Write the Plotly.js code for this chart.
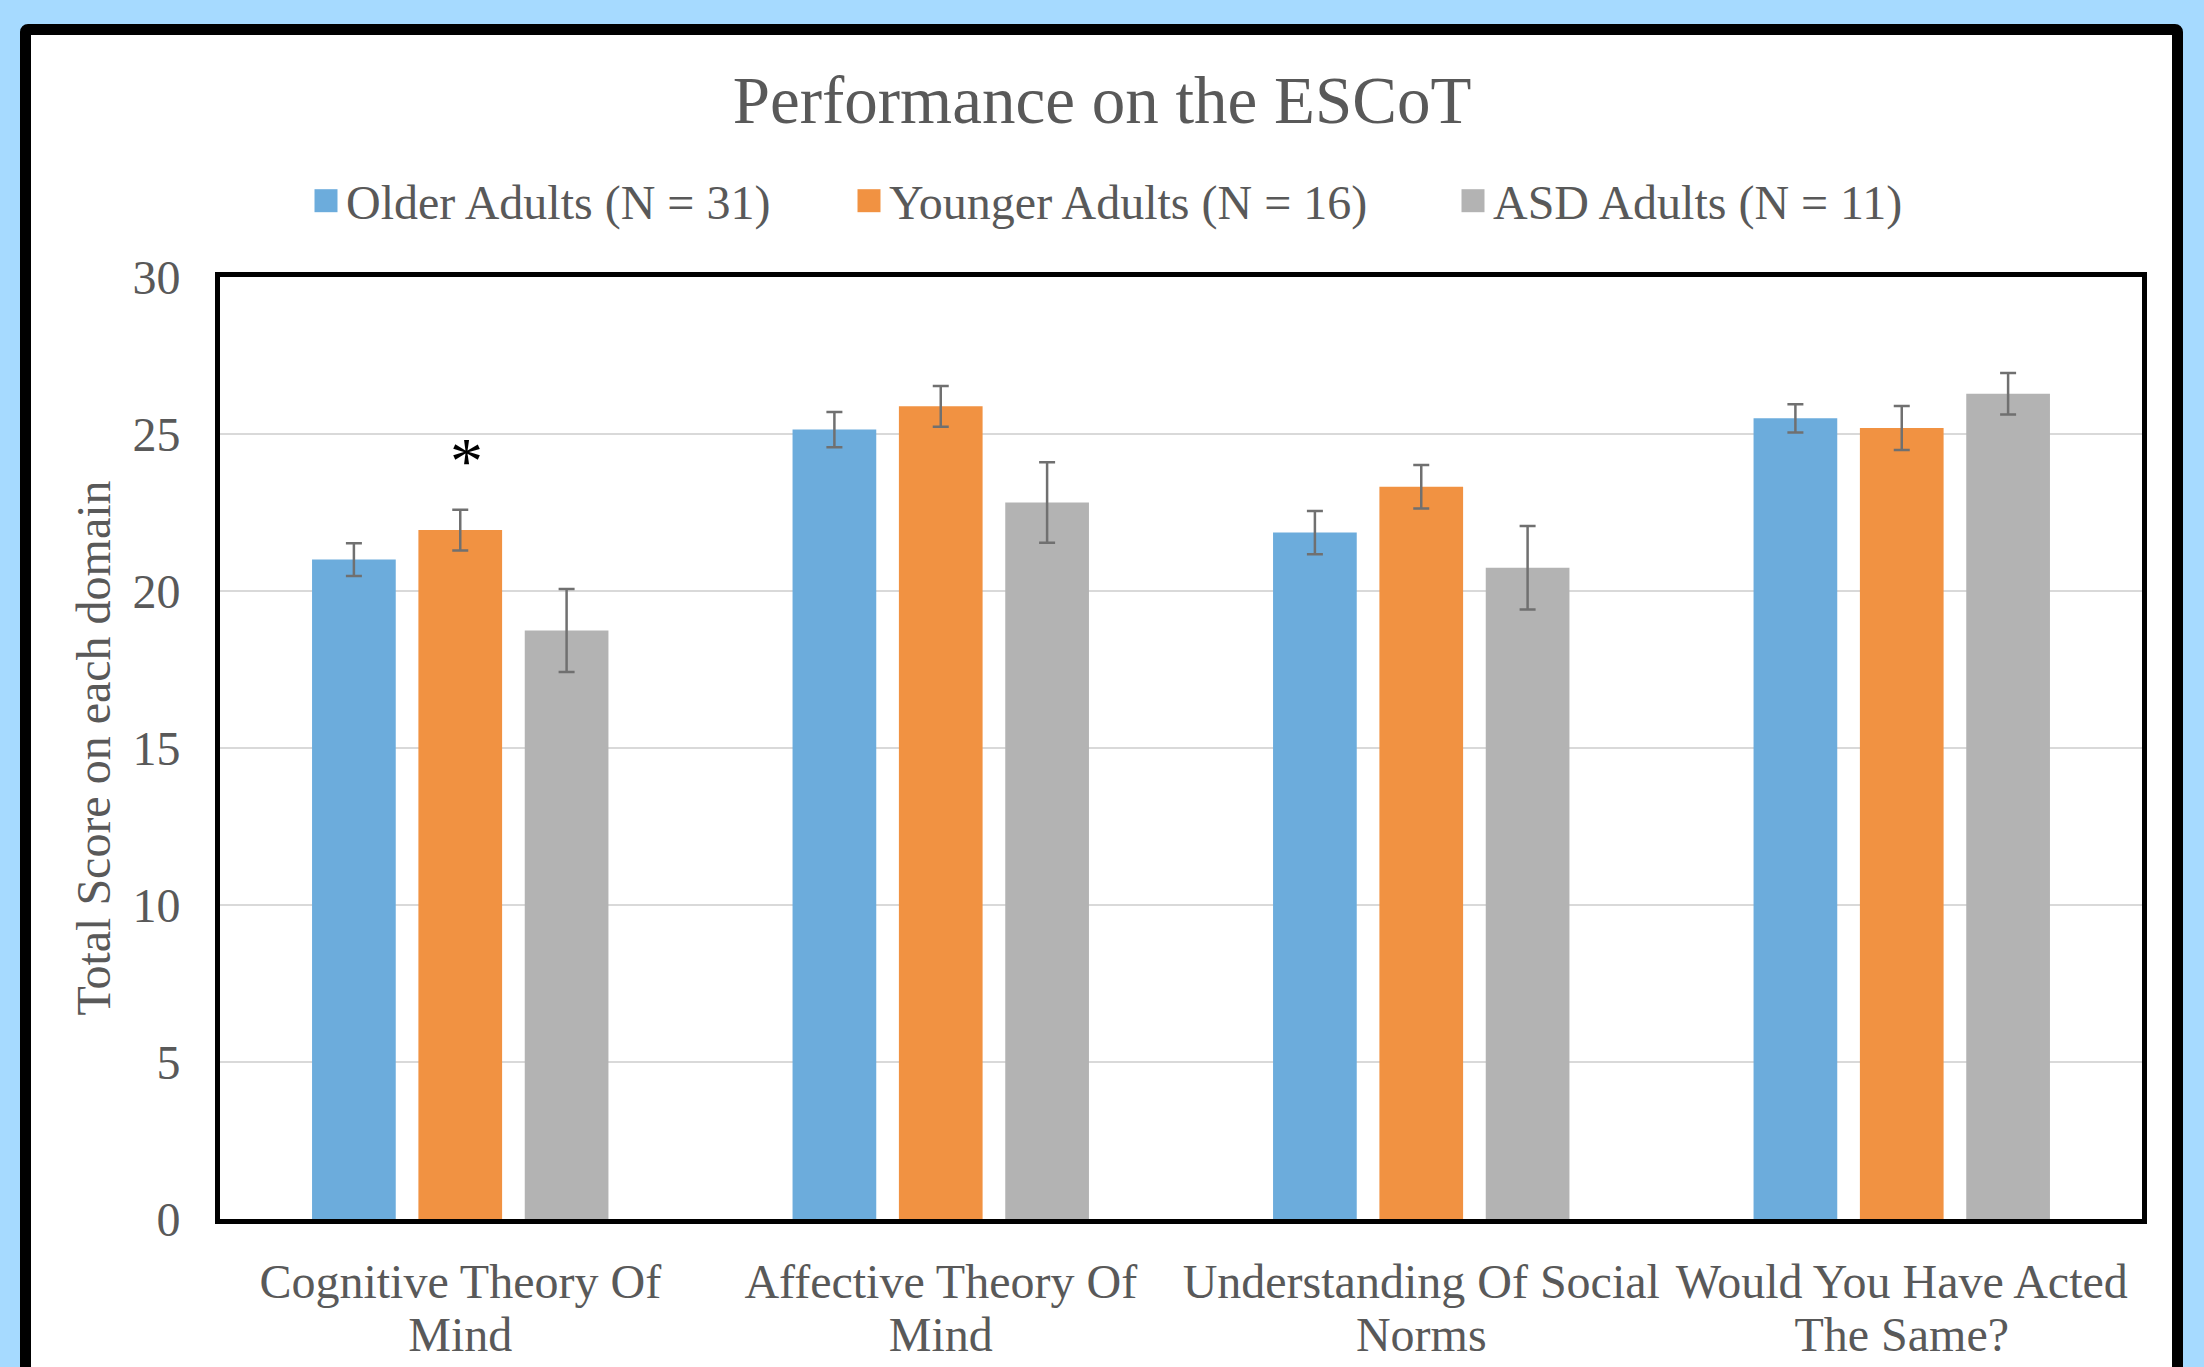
<!DOCTYPE html>
<html><head><meta charset="utf-8">
<script src="https://cdn.plot.ly/plotly-3.0.1.min.js"></script>
<style>
html,body{margin:0;padding:0;width:2204px;height:1367px;overflow:hidden;background:#A6DAFF;}
#frame{position:absolute;left:20px;top:24px;width:2141px;height:1400px;border:11px solid #000;border-radius:8px;background:#fff;}
#chart{position:absolute;left:0;top:0;width:2204px;height:1367px;}
</style></head><body>
<div id="frame"></div><div id="chart"></div>
<script>
const categories = ["Cognitive Theory Of<br>Mind", "Affective Theory Of<br>Mind", "Understanding Of Social<br>Norms", "Would You Have Acted<br>The Same?"];
const seriesNames = ["Older Adults (N = 31)", "Younger Adults (N = 16)", "ASD Adults (N = 11)"];
const olderMeans = [21.00, 25.14, 21.86, 25.50];
const olderErr   = [0.52, 0.56, 0.69, 0.45];
const youngerMeans = [21.94, 25.88, 23.32, 25.19];
const youngerErr   = [0.65, 0.65, 0.69, 0.70];
const asdMeans = [18.74, 22.82, 20.74, 26.28];
const asdErr   = [1.32, 1.28, 1.33, 0.66];
const yTicks = [0, 5, 10, 15, 20, 25, 30];
const significance = {category: 0, label: "*", y: 24.16};

const colors = ["#6CACDC", "#F19242", "#B3B3B3"];
const means = [olderMeans, youngerMeans, asdMeans];
const errs = [olderErr, youngerErr, asdErr];
const legendIds = ['legend', 'legend2', 'legend3'];
const legendX = [306, 849, 1453];
const FONT = '"Liberation Serif", "Times New Roman", serif';
const TXT = '#595959';
const FS = 48;

const traces = means.map((m, i) => ({
  type: 'bar', name: seriesNames[i], x: categories, y: m,
  legend: legendIds[i],
  marker: {color: colors[i]},
  error_y: {type: 'data', array: errs[i], visible: true, color: '#707070', thickness: 2.5, width: 8},
  hoverinfo: 'y'
}));

function legendAt(px) {
  return {orientation: 'h', x: px / 2204, xref: 'container', xanchor: 'left',
          y: 1 - 201/1367, yref: 'container', yanchor: 'middle', borderwidth: 0,
          font: {family: FONT, size: FS, color: TXT}, bgcolor: 'rgba(0,0,0,0)'};
}

const layout = {
  width: 2204, height: 1367,
  paper_bgcolor: 'rgba(0,0,0,0)', plot_bgcolor: '#ffffff',
  margin: {l: 220, r: 62, t: 277, b: 148, pad: 0},
  font: {family: FONT, size: FS, color: TXT},
  title: {text: 'Performance on the ESCoT', font: {family: FONT, size: 67, color: TXT},
          x: 0.5, xref: 'container', xanchor: 'center', y: 1 - 100/1367, yref: 'container', yanchor: 'middle'},
  showlegend: true,
  legend: legendAt(legendX[0]),
  legend2: legendAt(legendX[1]),
  legend3: legendAt(legendX[2]),
  barmode: 'group', bargap: 0.336, bargroupgap: 0.213,
  xaxis: {type: 'category', showline: true, mirror: true, linecolor: '#000', linewidth: 5,
          ticks: '', showgrid: false, tickfont: {family: FONT, size: FS, color: TXT}, ticklabelstandoff: 16},
  yaxis: {range: [0, 30], tickvals: yTicks, showline: true, mirror: true, linecolor: '#000', linewidth: 5,
          gridcolor: '#D9D9D9', gridwidth: 2, zeroline: false, ticks: '', ticklabelstandoff: 25,
          tickfont: {family: FONT, size: FS, color: TXT},
          title: {text: 'Total Score on each domain', font: {family: FONT, size: FS, color: TXT}}},
  annotations: [{x: categories[significance.category], y: significance.y, xref: 'x', yref: 'y',
                 text: significance.label, showarrow: false, xshift: 6,
                 font: {family: FONT, size: 66, color: '#000'}}]
};

Plotly.newPlot('chart', traces, layout, {displayModeBar: false, staticPlot: true}).then(gd => {
  const ratio = 1.12 / 1.3;
  gd.querySelectorAll('g.xtick text tspan.line').forEach(t => {
    const dy = t.getAttribute('dy');
    if (dy && parseFloat(dy) !== 0) t.setAttribute('dy', (parseFloat(dy) * ratio) + 'em');
  });
  gd.querySelectorAll('.legendpoints path').forEach(p => p.setAttribute('d', 'M11.5,11.5H-11.5V-11.5H11.5Z'));
});
</script>
</body></html>
